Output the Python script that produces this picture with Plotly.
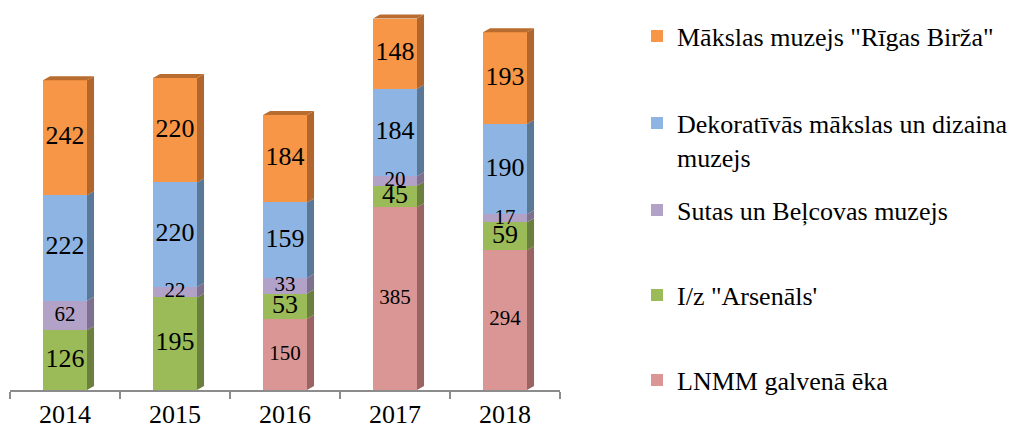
import plotly.graph_objects as go

years = ["2014", "2015", "2016", "2017", "2018"]

series_names = [
    "LNMM galvenā ēka",
    "I/z \"Arsenāls'",
    "Sutas un Beļcovas muzejs",
    "Dekoratīvās mākslas un dizaina<br>muzejs",
    "Mākslas muzejs \"Rīgas Birža\"",
]
lnmm = [0, 0, 150, 385, 294]
arsenals = [126, 195, 53, 45, 59]
sutas = [62, 22, 33, 20, 17]
dekor = [222, 220, 159, 184, 190]
birza = [242, 220, 184, 148, 193]

series_values = [lnmm, arsenals, sutas, dekor, birza]
front_colors = ["#DA9694", "#9BBB59", "#B3A2C7", "#8DB4E2", "#F79646"]
side_colors = ["#9A6463", "#6B803E", "#7E7190", "#5C7897", "#B0662C"]
top_color = "#B86C2F"
label_sizes = [21, 26, 21, 26, 26]

FONT = "Liberation Serif"
W = 0.4      # bar width (category units)
DX = 0.064   # fake 3D depth, x
DY = 8.4     # fake 3D depth, y

fig = go.Figure()

# front faces
for name, vals, col, k in zip(series_names, series_values, front_colors, range(5)):
    fig.add_trace(go.Bar(
        x=years, y=vals, name=name, width=W,
        marker=dict(color=col, line=dict(width=0)),
        legend="legend" if k == 0 else "legend%d" % (k + 1),
        hoverinfo="skip",
    ))

# side faces and top face, computed from the stacked values
base = [0] * len(years)
label_x, label_y, label_txt, label_fs = [], [], [], []
for vals, col, fs in zip(series_values, side_colors, label_sizes):
    xs, ys = [], []
    for i, v in enumerate(vals):
        if v <= 0:
            continue
        b, t = base[i], base[i] + v
        xr = i + W / 2
        xs += [xr, xr + DX, xr + DX, xr, xr, None]
        ys += [b, b + DY, t + DY, t, b, None]
        label_x.append(years[i])
        label_y.append(b + v / 2)
        label_txt.append(str(v))
        label_fs.append(fs)
        base[i] = t
    fig.add_trace(go.Scatter(
        x=xs, y=ys, xaxis="x2", mode="lines", fill="toself",
        fillcolor=col, line=dict(width=0, color=col),
        showlegend=False, hoverinfo="skip",
    ))

xs, ys = [], []
for i, tot in enumerate(base):
    xl, xr = i - W / 2, i + W / 2
    xs += [xl, xl + DX, xr + DX, xr, xl, None]
    ys += [tot, tot + DY, tot + DY, tot, tot, None]
fig.add_trace(go.Scatter(
    x=xs, y=ys, xaxis="x2", mode="lines", fill="toself",
    fillcolor=top_color, line=dict(width=0, color=top_color),
    showlegend=False, hoverinfo="skip",
))

# value labels on top of everything so overlapping ones stay readable
fig.add_trace(go.Scatter(
    x=label_x, y=label_y, text=label_txt, mode="text",
    textposition="middle center",
    textfont=dict(family=FONT, size=label_fs, color="black"),
    showlegend=False, hoverinfo="skip", cliponaxis=False,
))

# one legend per series so each row can sit where the original has it
PLOT_L, PLOT_T, PLOT_W, PLOT_H = 10, 10, 550, 380
legend_rows = [380, 295, 210, 140, 36]
legend_x = (637 - PLOT_L) / PLOT_W
legends = {}
for k, row in enumerate(legend_rows):
    key = "legend" if k == 0 else "legend%d" % (k + 1)
    legends[key] = dict(
        x=legend_x, xanchor="left",
        y=(PLOT_T + PLOT_H - row) / PLOT_H, yanchor="middle",
        font=dict(family=FONT, size=26, color="black"),
        bgcolor="rgba(0,0,0,0)", borderwidth=0,
        valign="top" if k == 3 else "middle",
    )

fig.update_layout(
    width=1017, height=430,
    margin=dict(l=PLOT_L, r=1017 - PLOT_L - PLOT_W, t=PLOT_T, b=430 - PLOT_T - PLOT_H, autoexpand=False),
    barmode="stack",
    plot_bgcolor="white", paper_bgcolor="white",
    showlegend=True,
    font=dict(family=FONT, size=26, color="black"),
    xaxis=dict(
        type="category", range=[-0.5, 4.5], tickson="boundaries",
        ticks="outside", ticklen=7, tickwidth=2, tickcolor="#8C8C8C",
        showline=True, linecolor="#8C8C8C", linewidth=2,
        showgrid=False, zeroline=False,
        tickfont=dict(family=FONT, size=26, color="black"),
    ),
    xaxis2=dict(overlaying="x", anchor="y", range=[-0.5, 4.5], visible=False),
    yaxis=dict(range=[0, 800], visible=False),
    **legends,
)

# the page's default body margin would shift the figure by 8px
fig.write_html("out.html", config={"displayModeBar": False},
               post_script="document.body.style.margin='0';")
